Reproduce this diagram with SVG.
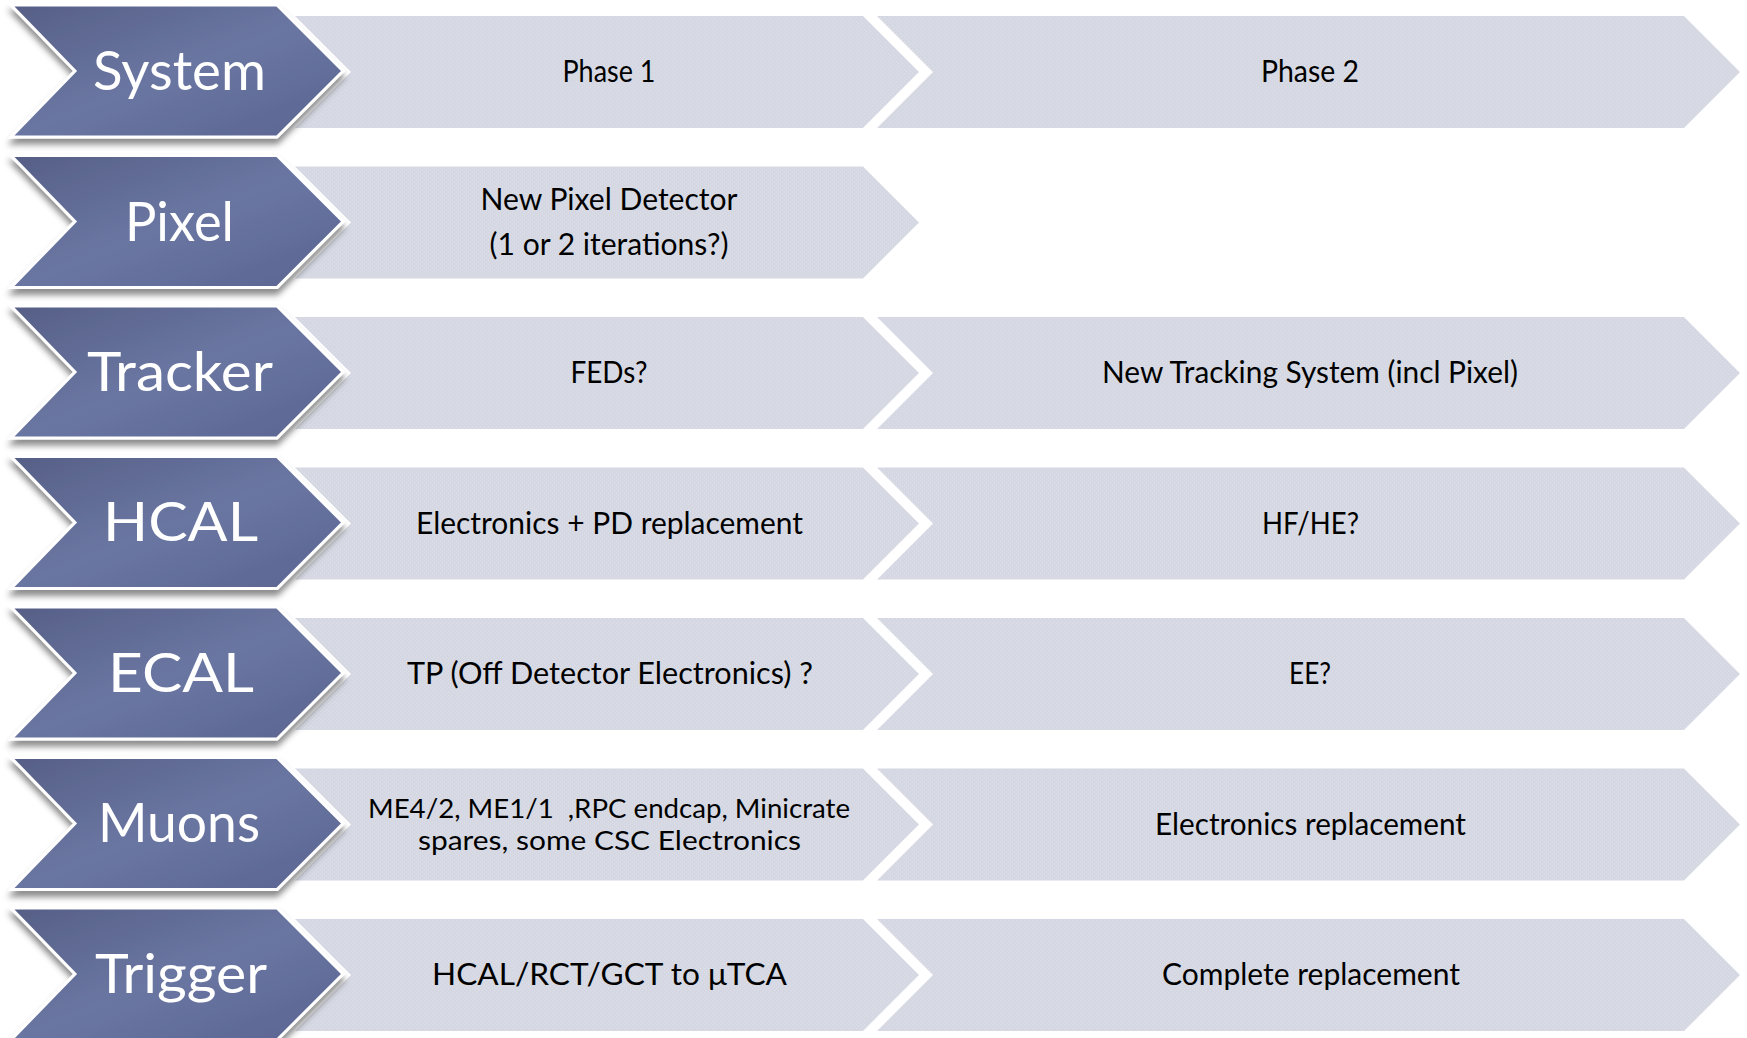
<svg xmlns="http://www.w3.org/2000/svg" xmlns:xlink="http://www.w3.org/1999/xlink" width="1747" height="1038" viewBox="0 0 1747 1038">
  <defs>
    <linearGradient id="blueGrad" x1="0" y1="0" x2="1" y2="1">
      <stop offset="0" stop-color="#565f86"/>
      <stop offset="0.5" stop-color="#6a76a2"/>
      <stop offset="1" stop-color="#5a6490"/>
    </linearGradient>
    <pattern id="grayTex" width="4" height="4" patternUnits="userSpaceOnUse">
      <rect width="4" height="4" fill="#d5d8e2"/>
      <rect x="0" y="0" width="1" height="1" fill="#dfe1e9"/>
      <rect x="2" y="2" width="1" height="1" fill="#dfe1e9"/>
    </pattern>
    <filter id="shadow" x="-5%" y="-10%" width="115%" height="130%">
      <feDropShadow dx="0" dy="6" stdDeviation="3" flood-color="#000" flood-opacity="0.45"/>
    </filter>
    <polygon id="blueShape" points="11,0 277,0 343,66 277,132 11,132 75,66"/>
    <polygon id="gray1Shape" points="295,11 863,11 919,67 863,123 295,123 351,67"/>
    <polygon id="gray2Shape" points="877,11 1684,11 1740,67 1684,123 877,123 933,67"/>
  </defs>
  <style>
    .blue { fill: url(#blueGrad); stroke: #ffffff; stroke-width: 3; stroke-linejoin: miter; filter: url(#shadow); }
    .gray { fill: url(#grayTex); }
    .lbl { font-family: Lato, "Open Sans", "Liberation Sans", sans-serif; font-size: 55px; fill: #ffffff; text-anchor: middle; }
    .txt { font-family: Lato, "Open Sans", "Liberation Sans", sans-serif; font-size: 30px; fill: #000000; text-anchor: middle; }
    .tight { font-size: 26.5px; }
  </style>
  <rect width="1747" height="1038" fill="#ffffff"/>

  <!-- Row 1: System -->
  <g id="row-system" transform="translate(0,5)">
    <g id="system-phase1"><use xlink:href="#gray1Shape" class="gray"/><text class="txt" x="609" y="77" textLength="93" lengthAdjust="spacingAndGlyphs">Phase 1</text></g>
    <g id="system-phase2"><use xlink:href="#gray2Shape" class="gray"/><text class="txt" x="1310" y="77" textLength="98" lengthAdjust="spacingAndGlyphs">Phase 2</text></g>
    <g id="system"><use xlink:href="#blueShape" class="blue"/><text class="lbl" x="179.5" y="85" textLength="173" lengthAdjust="spacingAndGlyphs">System</text></g>
  </g>

  <!-- Row 2: Pixel -->
  <g id="row-pixel" transform="translate(0,155.5)">
    <g id="pixel-phase1"><use xlink:href="#gray1Shape" class="gray"/>
      <text class="txt" x="609" y="54.5" textLength="257" lengthAdjust="spacingAndGlyphs">New Pixel Detector</text>
      <text class="txt" x="609" y="99.5" textLength="239" lengthAdjust="spacingAndGlyphs">(1 or 2 iterations?)</text>
    </g>
    <g id="pixel"><use xlink:href="#blueShape" class="blue"/><text class="lbl" x="179.5" y="85" textLength="109" lengthAdjust="spacingAndGlyphs">Pixel</text></g>
  </g>

  <!-- Row 3: Tracker -->
  <g id="row-tracker" transform="translate(0,306)">
    <g id="tracker-phase1"><use xlink:href="#gray1Shape" class="gray"/><text class="txt" x="609" y="77" textLength="77" lengthAdjust="spacingAndGlyphs">FEDs?</text></g>
    <g id="tracker-phase2"><use xlink:href="#gray2Shape" class="gray"/><text class="txt" x="1310" y="77" textLength="416" lengthAdjust="spacingAndGlyphs">New Tracking System (incl Pixel)</text></g>
    <g id="tracker"><use xlink:href="#blueShape" class="blue"/><text class="lbl" x="180" y="85" textLength="186" lengthAdjust="spacingAndGlyphs">Tracker</text></g>
  </g>

  <!-- Row 4: HCAL -->
  <g id="row-hcal" transform="translate(0,456.5)">
    <g id="hcal-phase1"><use xlink:href="#gray1Shape" class="gray"/><text class="txt" x="609.5" y="77" textLength="387" lengthAdjust="spacingAndGlyphs">Electronics + PD replacement</text></g>
    <g id="hcal-phase2"><use xlink:href="#gray2Shape" class="gray"/><text class="txt" x="1310.5" y="77" textLength="97" lengthAdjust="spacingAndGlyphs">HF/HE?</text></g>
    <g id="hcal"><use xlink:href="#blueShape" class="blue"/><text class="lbl" x="180.5" y="84" textLength="155" lengthAdjust="spacingAndGlyphs">HCAL</text></g>
  </g>

  <!-- Row 5: ECAL -->
  <g id="row-ecal" transform="translate(0,607)">
    <g id="ecal-phase1"><use xlink:href="#gray1Shape" class="gray"/><text class="txt" x="610" y="77" textLength="406" lengthAdjust="spacingAndGlyphs">TP (Off Detector Electronics) ?</text></g>
    <g id="ecal-phase2"><use xlink:href="#gray2Shape" class="gray"/><text class="txt" x="1310" y="77" textLength="42" lengthAdjust="spacingAndGlyphs">EE?</text></g>
    <g id="ecal"><use xlink:href="#blueShape" class="blue"/><text class="lbl" x="181" y="85" textLength="146" lengthAdjust="spacingAndGlyphs">ECAL</text></g>
  </g>

  <!-- Row 6: Muons -->
  <g id="row-muons" transform="translate(0,757.5)">
    <g id="muons-phase1"><use xlink:href="#gray1Shape" class="gray"/>
      <text class="txt tight" x="609" y="60" textLength="482" lengthAdjust="spacingAndGlyphs" xml:space="preserve">ME4/2, ME1/1  ,RPC endcap, Minicrate</text>
      <text class="txt tight" x="609.5" y="92.5" textLength="383" lengthAdjust="spacingAndGlyphs">spares, some CSC Electronics</text>
    </g>
    <g id="muons-phase2"><use xlink:href="#gray2Shape" class="gray"/><text class="txt" x="1310.5" y="77" textLength="311" lengthAdjust="spacingAndGlyphs">Electronics replacement</text></g>
    <g id="muons"><use xlink:href="#blueShape" class="blue"/><text class="lbl" x="179" y="84.5" textLength="162" lengthAdjust="spacingAndGlyphs">Muons</text></g>
  </g>

  <!-- Row 7: Trigger -->
  <g id="row-trigger" transform="translate(0,908)">
    <g id="trigger-phase1"><use xlink:href="#gray1Shape" class="gray"/><text class="txt" x="609.5" y="77" textLength="355" lengthAdjust="spacingAndGlyphs">HCAL/RCT/GCT to μTCA</text></g>
    <g id="trigger-phase2"><use xlink:href="#gray2Shape" class="gray"/><text class="txt" x="1311" y="77" textLength="298" lengthAdjust="spacingAndGlyphs">Complete replacement</text></g>
    <g id="trigger"><use xlink:href="#blueShape" class="blue"/><text class="lbl" x="181" y="85" textLength="172" lengthAdjust="spacingAndGlyphs">Trigger</text></g>
  </g>
</svg>
